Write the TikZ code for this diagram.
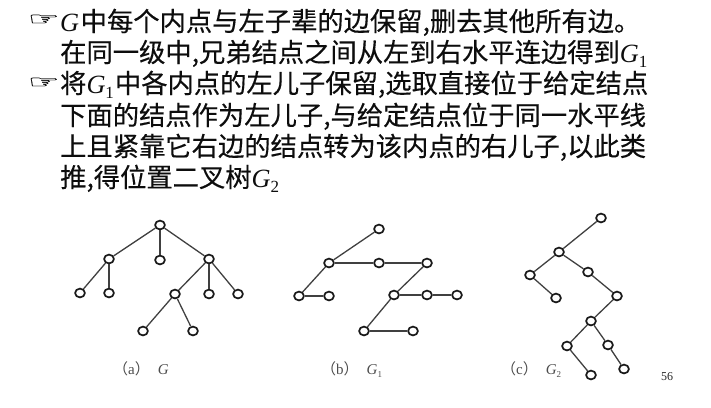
\documentclass[tikz,border=0pt]{standalone}
\usepackage{fontspec}
\usetikzlibrary{shapes.geometric}
\newfontfamily\cjk[FakeBold=0.35]{Noto Sans CJK SC}
\newfontfamily\cjkcap{Noto Sans CJK SC}
\newfontfamily\dejavu[FakeBold=0.3]{DejaVu Sans}
\newfontfamily\ser{Liberation Serif}
\newcommand{\Gi}[1]{{\ser\itshape G}\ifx&#1&\else\raisebox{-0.22em}{\fontsize{17}{17}\selectfont\ser #1}\fi}
\tikzset{
  tn/.style={ellipse,draw=black!90,fill=white,line width=1.7pt,minimum width=9.8pt,minimum height=8.8pt,inner sep=0pt},
  ed/.style={draw=black!75,line width=1.3pt},
  txtline/.style={anchor=base west,inner sep=0pt,font=\cjk\fontsize{26.3}{30}\selectfont,text=black!95},
  handmark/.style={anchor=base west,inner sep=0pt,font=\dejavu\fontsize{24}{28}\selectfont,text=black!95},
  captext/.style={anchor=base west,inner sep=0pt,font=\ser\fontsize{15}{17}\selectfont,text=black!70},
}
\begin{document}
\begin{tikzpicture}[x=1pt,y=-1pt]
\useasboundingbox (0,0) rectangle (711,407);
\node[handmark] (h1) at (27.5,25) {\scalebox{1.5}[0.75]{☞}};
\node[handmark] (h2) at (27.5,88) {\scalebox{1.5}[0.75]{☞}};
\node[txtline] (t1) at (60,31) {\Gi{}\hspace{1.5pt}中每个内点与左子辈的边保留,删去其他所有边。};
\node[txtline] (t2) at (60,62) {在同一级中,兄弟结点之间从左到右水平连边得到\Gi{1}};
\node[txtline] (t3) at (60,93) {将\Gi{1}\hspace{1pt}中各内点的左儿子保留,选取直接位于给定结点};
\node[txtline] (t4) at (60,125) {下面的结点作为左儿子,与给定结点位于同一水平线};
\node[txtline] (t5) at (60,156) {上且紧靠它右边的结点转为该内点的右儿子,以此类};
\node[txtline] (t6) at (60,187) {推,得位置二叉树\Gi{2}};
% G
\foreach \n/\x/\y in {a0/160/225,a1/109/259,a2/160/260,a3/209/259,a4/80/293,a5/109/293,a6/175/294,a7/209/294,a8/238/294,a9/143/331,a10/193/331}
  \node[tn] (\n) at (\x,\y) {};
% G1
\foreach \n/\x/\y in {b0/379/229,b1/329/263,b2/379/263,b3/427/263,b4/299/296,b5/329/296,b6/394/295,b7/427/295,b8/457/295,b9/364/331,b10/413/331}
  \node[tn] (\n) at (\x,\y) {};
% G2
\foreach \n/\x/\y in {c0/601/218,c1/559/252,c2/530/275,c3/556/298,c4/588/272,c5/617/296,c6/591/321,c7/567/346,c8/608/345,c9/591/375,c10/624/369}
  \node[tn] (\n) at (\x,\y) {};
\foreach \p/\q in {a0/a1,a0/a2,a0/a3,a1/a4,a1/a5,a3/a6,a3/a7,a3/a8,a6/a9,a6/a10,
  b0/b1,b1/b2,b2/b3,b1/b4,b4/b5,b3/b6,b6/b7,b7/b8,b6/b9,b9/b10,
  c0/c1,c1/c2,c2/c3,c1/c4,c4/c5,c5/c6,c6/c7,c7/c9,c6/c8,c8/c10}
  \draw[ed] (\p) -- (\q);
\node[captext] (ca) at (113,374) {{\cjkcap （}a{\cjkcap ）}\hspace{8pt}{\itshape G}};
\node[captext] (cb) at (321,374) {{\cjkcap （}b{\cjkcap ）}\hspace{8pt}{\itshape G}\raisebox{-0.2em}{\fontsize{9}{9}\selectfont 1}};
\node[captext] (cc) at (501,374) {{\cjkcap （}c{\cjkcap ）}\hspace{8pt}{\itshape G}\raisebox{-0.2em}{\fontsize{9}{9}\selectfont 2}};
\node[anchor=base west,inner sep=0pt,font=\ser\fontsize{12}{14}\selectfont,text=black!85] (pg) at (661,380) {56};
\end{tikzpicture}
\end{document}
